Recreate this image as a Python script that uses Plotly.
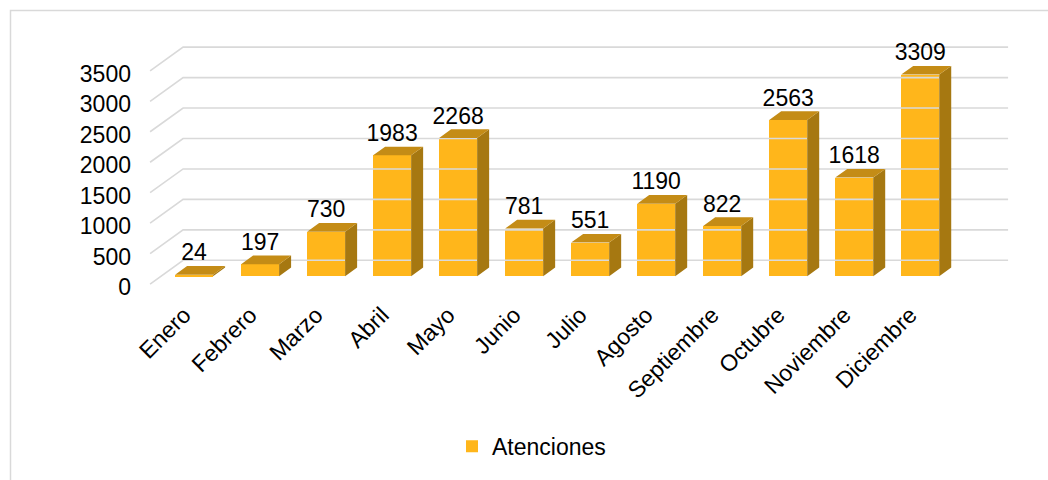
import plotly.graph_objects as go

# ---- data ----
months = ["Enero", "Febrero", "Marzo", "Abril", "Mayo", "Junio", "Julio",
          "Agosto", "Septiembre", "Octubre", "Noviembre", "Diciembre"]
atenciones = [24, 197, 730, 1983, 2268, 781, 551, 1190, 822, 2563, 1618, 3309]
y_ticks = [0, 500, 1000, 1500, 2000, 2500, 3000, 3500]
series_name = "Atenciones"

# ---- styling / geometry ----
W, H = 1048, 480
L, R, T, B = 136, 1010, 20, 292          # plot-area pixel bounds
X_RANGE = [-0.88, 12.36]
Y_RANGE = [-211, 4205]
PX_X = (R - L) / (X_RANGE[1] - X_RANGE[0])   # px per x unit
PX_Y = (B - T) / (Y_RANGE[1] - Y_RANGE[0])   # px per y unit

BAR_W = 38 / PX_X
BAR_DX = 12 / PX_X          # depth offset of bars
BAR_DY = 8.8 / PX_Y
FRONT_OFF = -8 / PX_Y       # front floor plane relative to bar plane
BACK_OFF = 16 / PX_Y        # back wall relative to bar plane
LABEL_OFF = -3 / PX_Y       # small visual nudge for y tick labels
WALL_X0_FRONT = -44 / PX_X
WALL_X0_BACK = -11 / PX_X
WALL_X1 = 814 / PX_X

C_FRONT = "rgb(255,182,27)"
C_SIDE = "rgb(166,120,17)"
C_TOP = "rgb(196,140,22)"
C_GRID = "#D9D9D9"
FONT = "Liberation Sans, Arial, sans-serif"
FS = 23

fig = go.Figure()

# gridlines on back wall + diagonal side-wall lines
gx, gy = [], []
for t in y_ticks:
    gx += [WALL_X0_FRONT, WALL_X0_BACK, WALL_X1, None]
    gy += [t + FRONT_OFF, t + BACK_OFF, t + BACK_OFF, None]
fig.add_trace(go.Scatter(x=gx, y=gy, mode="lines", line=dict(color=C_GRID, width=1.6),
                         hoverinfo="skip", showlegend=False))

# side and top faces
sx, sy, tx, ty = [], [], [], []
for i, v in enumerate(atenciones):
    xl, xr = i - BAR_W / 2, i + BAR_W / 2
    sx += [xr, xr, xr + BAR_DX, xr + BAR_DX, xr, None]
    sy += [0, v, v + BAR_DY, BAR_DY, 0, None]
    tx += [xl, xr, xr + BAR_DX, xl + BAR_DX, xl, None]
    ty += [v, v, v + BAR_DY, v + BAR_DY, v, None]
fig.add_trace(go.Scatter(x=sx, y=sy, mode="lines", fill="toself", fillcolor=C_SIDE,
                         line=dict(width=0, color=C_SIDE), hoverinfo="skip", showlegend=False))
fig.add_trace(go.Scatter(x=tx, y=ty, mode="lines", fill="toself", fillcolor=C_TOP,
                         line=dict(width=0, color=C_TOP), hoverinfo="skip", showlegend=False))

# front faces
fig.add_trace(go.Bar(x=list(range(len(months))), y=atenciones, width=BAR_W,
                     marker=dict(color=C_FRONT, line=dict(width=0)), name=series_name,
                     showlegend=True))

# data labels
fig.add_trace(go.Scatter(x=list(range(len(months))), y=[v + BAR_DY for v in atenciones],
                         mode="text", text=[str(v) for v in atenciones],
                         textposition="top center",
                         textfont=dict(family=FONT, size=FS, color="#000"),
                         hoverinfo="skip", showlegend=False))

# outer border
def px2paper_x(p):
    return (p - L) / (R - L)

def px2paper_y(p):
    return (B - p) / (B - T)

fig.add_shape(type="rect", xref="paper", yref="paper",
              x0=px2paper_x(10.5), x1=px2paper_x(W + 20),
              y0=px2paper_y(H + 20), y1=px2paper_y(10.5),
              line=dict(color="#D9D9D9", width=1.5), fillcolor="rgba(0,0,0,0)", layer="below")

fig.update_layout(
    width=W, height=H,
    margin=dict(l=L, r=W - R, t=T, b=H - B),
    paper_bgcolor="white", plot_bgcolor="white",
    font=dict(family=FONT, size=FS, color="#000"),
    bargap=0,
    xaxis=dict(range=X_RANGE, tickvals=list(range(len(months))), ticktext=months,
               tickangle=-45, showgrid=False, zeroline=False, showline=False,
               ticks="", tickfont=dict(family=FONT, size=FS),
               ticklabelstandoff=7, ticklabelshift=-10),
    yaxis=dict(range=Y_RANGE, tickvals=[t + FRONT_OFF + LABEL_OFF for t in y_ticks],
               ticktext=[str(t) for t in y_ticks], showgrid=False, zeroline=False,
               showline=False, ticks="", tickfont=dict(family=FONT, size=FS),
               ticklabelstandoff=4),
    legend=dict(orientation="h", x=px2paper_x(452), xanchor="left",
                y=px2paper_y(451), yanchor="middle",
                font=dict(family=FONT, size=FS), bgcolor="rgba(0,0,0,0)"),
    showlegend=True,
)

fig.write_html("out.html")
